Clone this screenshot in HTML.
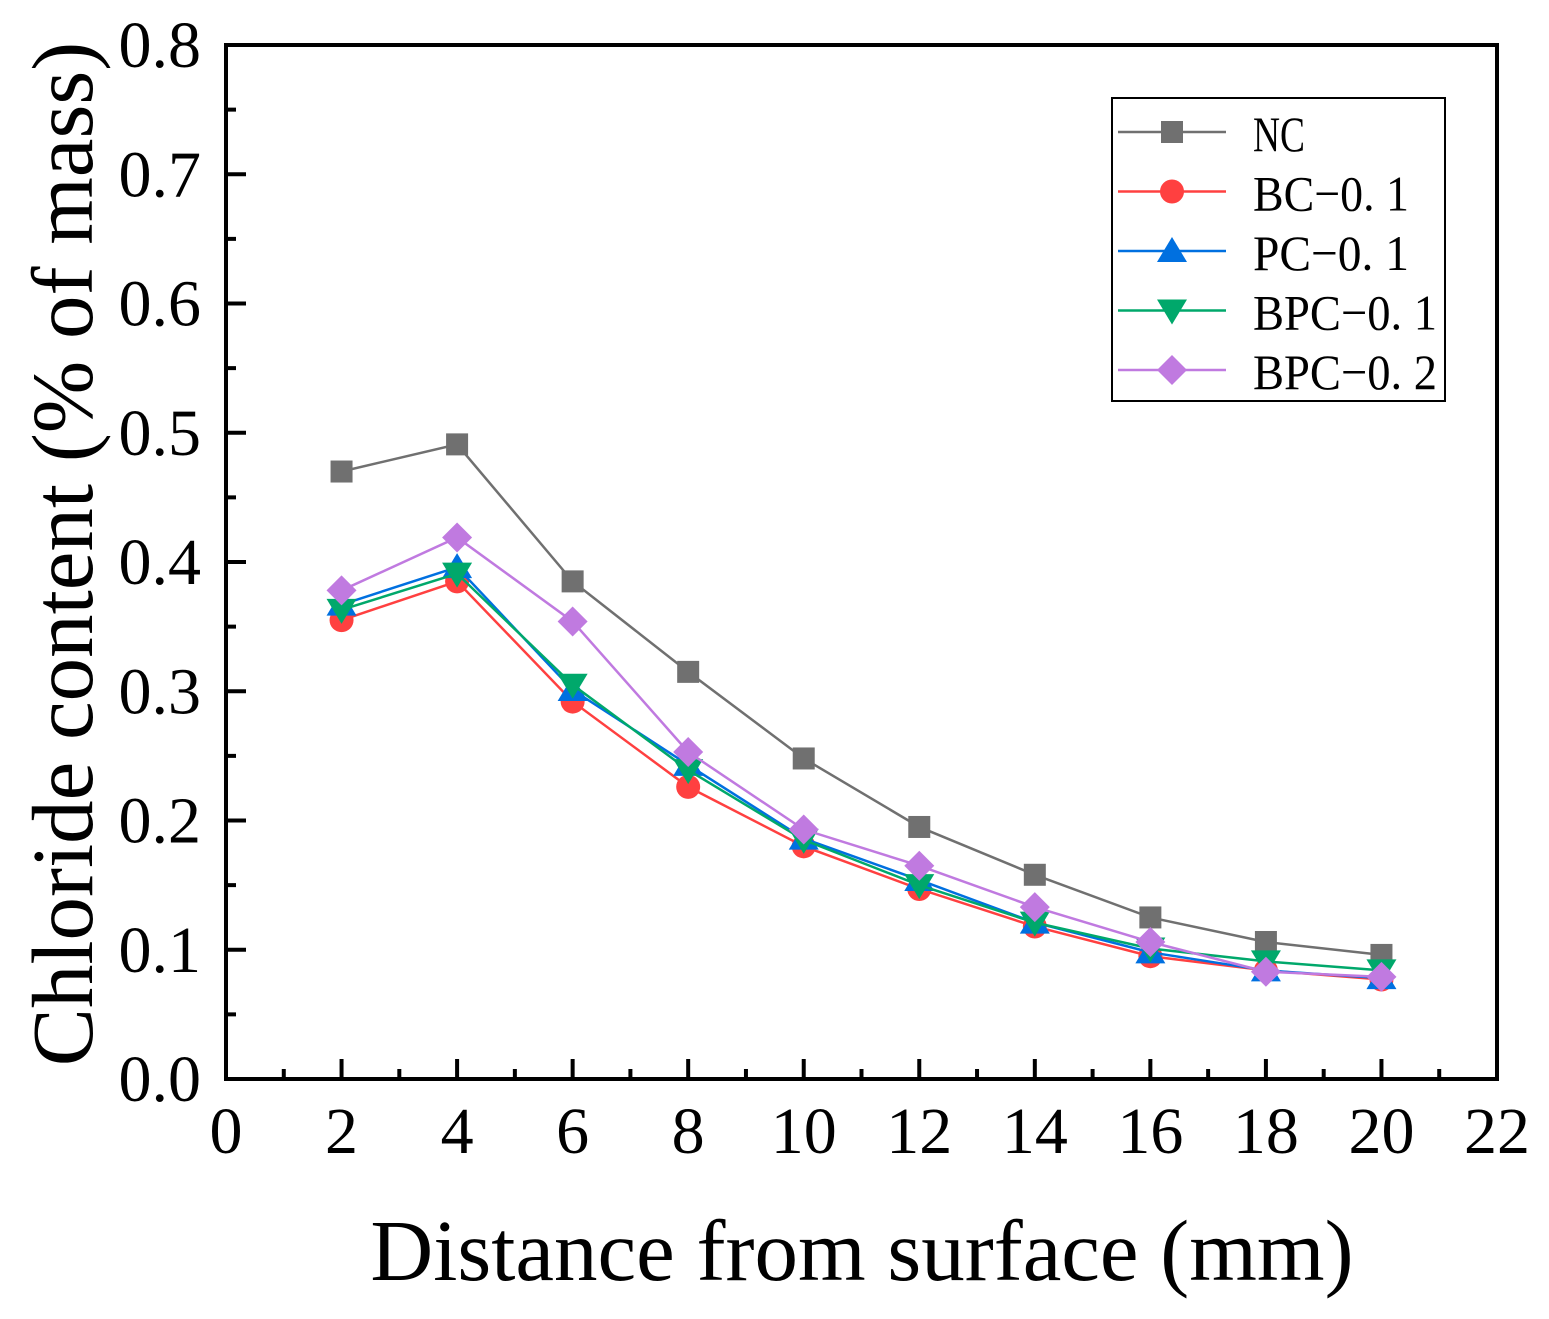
<!DOCTYPE html>
<html><head><meta charset="utf-8"><style>
html,body{margin:0;padding:0;background:#fff;}
svg{display:block;font-family:"Liberation Serif","Noto Serif CJK SC",serif;}
</style></head><body>
<svg id="chart" width="1549" height="1319" viewBox="0 0 1549 1319" xmlns="http://www.w3.org/2000/svg">
<g id="grid"></g>
<g id="series"></g>
<g id="axes"></g>
<g id="legend"></g>
</svg>
<script>
const xValues = [2,4,6,8,10,12,14,16,18,20];
const ncValues = [0.470,0.491,0.385,0.315,0.248,0.195,0.158,0.125,0.106,0.096];
const bcValues = [0.355,0.385,0.292,0.226,0.180,0.147,0.118,0.095,0.084,0.077];
const pcValues = [0.367,0.396,0.301,0.243,0.186,0.154,0.121,0.098,0.084,0.078];
const bpc1Values = [0.363,0.391,0.305,0.239,0.185,0.150,0.121,0.101,0.091,0.084];
const bpc2Values = [0.378,0.419,0.354,0.253,0.193,0.165,0.133,0.106,0.083,0.079];
const xTickLabels = ["0","2","4","6","8","10","12","14","16","18","20","22"];
const yTickLabels = ["0.0","0.1","0.2","0.3","0.4","0.5","0.6","0.7","0.8"];
const seriesNames = ["NC","BC−0. 1","PC−0. 1","BPC−0. 1","BPC−0. 2"];

const NS="http://www.w3.org/2000/svg";
const L=226,R=1497,T=45,B=1079;
const xs=v=>L+(v-0)/22*(R-L);
const ys=v=>B-(v/0.8)*(B-T);
function mk(tag,attrs,parent){const e=document.createElementNS(NS,tag);for(const k in attrs)e.setAttribute(k,attrs[k]);parent.appendChild(e);return e;}
const axes=document.getElementById('axes');
const series=document.getElementById('series');
const legend=document.getElementById('legend');

const frame=mk('rect',{x:L,y:T,width:R-L,height:B-T,fill:'none',stroke:'#000','stroke-width':4},axes);



for(let i=1;i<22;i++){
  const x=xs(i);const major=i%2===0;
  const t=mk('line',{x1:x,x2:x,y1:B,y2:B-(major?20:10),stroke:'#000','stroke-width':4},axes);
  
  
}
xTickLabels.forEach((lab,i)=>{
  const t=mk('text',{x:xs(i*2),y:1153,'font-size':66,'text-anchor':'middle'},axes);t.textContent=lab;
  
  
});
for(let i=1;i<16;i++){
  const v=i*0.05;const y=ys(v);const major=i%2===0;
  const t=mk('line',{x1:L,x2:L+(major?20:10),y1:y,y2:y,stroke:'#000','stroke-width':4},axes);
  
  
}
yTickLabels.forEach((lab,i)=>{
  const t=mk('text',{x:201,y:ys(i*0.1)+22,'font-size':66,'text-anchor':'end'},axes);t.textContent=lab;
  
  
});
const xt=mk('text',{x:862,y:1280,'font-size':87,'text-anchor':'middle'},axes);xt.textContent='Distance from surface (mm)';


const yt=mk('text',{x:0,y:0,'font-size':87,'text-anchor':'middle',transform:'translate(92,554) rotate(-90)'},axes);yt.textContent='Chloride content (% of mass)';



const colors=['#707070','#FF4040','#0070E0','#00A86B','#C07AE0'];
const markers=['square','circle','up','down','diamond'];
const allValues=[ncValues,bcValues,pcValues,bpc1Values,bpc2Values];
function marker(type,x,y,color,parent){
  let e;
  if(type==='square')e=mk('rect',{x:x-11,y:y-11,width:22,height:22,fill:color},parent);
  else if(type==='circle')e=mk('circle',{cx:x,cy:y,r:12,fill:color},parent);
  else if(type==='up')e=mk('polygon',{points:`${x},${y-14} ${x-15},${y+11} ${x+15},${y+11}`,fill:color},parent);
  else if(type==='down')e=mk('polygon',{points:`${x},${y+14} ${x-15},${y-11} ${x+15},${y-11}`,fill:color},parent);
  else e=mk('polygon',{points:`${x},${y-15} ${x+15},${y} ${x},${y+15} ${x-15},${y}`,fill:color},parent);
  return e;
}
allValues.forEach((vals,s)=>{
  const g=mk('g',{},series);
  
  
  const pts=vals.map((v,i)=>xs(xValues[i])+','+ys(v)).join(' ');
  const pl=mk('polyline',{points:pts,fill:'none',stroke:colors[s],'stroke-width':2.5},g);
  
  
  vals.forEach((v,i)=>{
    const m=marker(markers[s],xs(xValues[i]),ys(v),colors[s],g);
    
    
  });
});

const lb=mk('rect',{x:1112,y:98,width:333,height:303,fill:'#fff',stroke:'#000','stroke-width':2},legend);


const tl=[52,156,156,184,184];
seriesNames.forEach((n,i)=>{
  const y=132+i*59.5;
  const g=mk('g',{},legend);
  
  
  mk('line',{x1:1118,x2:1226,y1:y,y2:y,stroke:colors[i],'stroke-width':2.5},g);
  marker(markers[i],1172,y,colors[i],g);
  const t=mk('text',{x:1253,y:y+19,'font-size':50,textLength:tl[i],lengthAdjust:'spacingAndGlyphs'},g);
  t.textContent=n;
});
</script>
</body></html>
